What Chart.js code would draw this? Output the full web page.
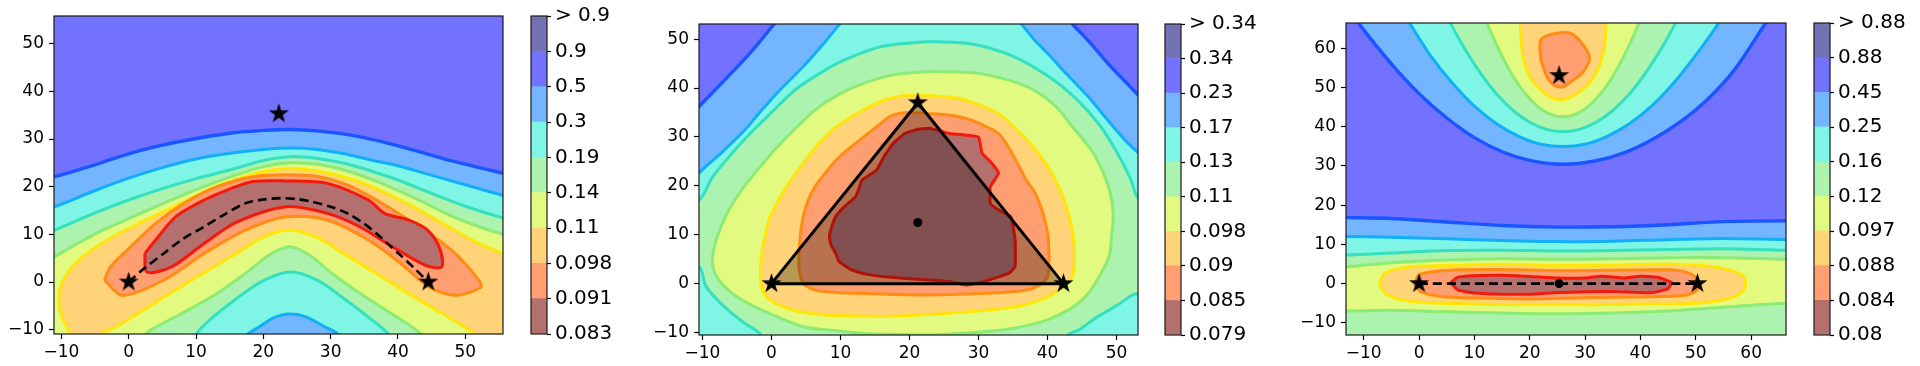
<!DOCTYPE html>
<html>
<head>
<meta charset="utf-8">
<script src="https://cdn.jsdelivr.net/npm/chart.js@4.4.1/dist/chart.umd.min.js"></script>
<style>
  html, body { margin: 0; padding: 0; background: #fff; width: 1920px; height: 366px; overflow: hidden; }
  canvas { position: absolute; top: 0; }
</style>
</head>
<body>
<canvas id="p1"></canvas><canvas id="cb1"></canvas>
<canvas id="p2"></canvas><canvas id="cb2"></canvas>
<canvas id="p3"></canvas><canvas id="cb3"></canvas>
<script>
// ---- data ----
// colorbar labels, bottom to top
const cbLabels1 = ['0.083', '0.091', '0.098', '0.11', '0.14', '0.19', '0.3', '0.5', '0.9', '> 0.9'];
const cbLabels2 = ['0.079', '0.085', '0.09', '0.098', '0.11', '0.13', '0.17', '0.23', '0.34', '> 0.34'];
const cbLabels3 = ['0.08', '0.084', '0.088', '0.097', '0.12', '0.16', '0.25', '0.45', '0.88', '> 0.88'];

const ticks1 = [-10, 0, 10, 20, 30, 40, 50];
const ticks2 = [-10, 0, 10, 20, 30, 40, 50];
const ticks3 = [-10, 0, 10, 20, 30, 40, 50, 60];

const range1 = { x: [-11.1, 55.6], y: [-10.9, 55.8] };
const range2 = { x: [-10.5, 53.1], y: [-10.5, 53.1] };
const range3 = { x: [-13.2, 66.3], y: [-13.1, 66.4] };

const frameRect = [[-30, -30], [80, -30], [80, 80], [-30, 80], [-30, -30]];

// panel 1 contours (outer edge of each band)
const p1_050 = [[-25, 17.5], [-11, 22.1], [-5, 24.6], [0, 26.9], [5, 28.7], [10, 30.1], [15, 31.2], [20, 31.8], [24, 32.0], [28, 31.7], [33, 30.8], [38, 29.3], [43, 27.4], [48, 25.4], [53, 23.7], [58, 22.0], [72, 17], [72, -30], [-25, -30], [-25, 17.5]];
const p1_030 = [[-25, 9], [-11, 15.8], [-5, 19.2], [0, 21.8], [5, 24.0], [10, 25.8], [15, 27.0], [20, 27.8], [24, 28.1], [28, 27.8], [32, 26.9], [36, 25.6], [40, 24.4], [44, 22.8], [48, 21.2], [52, 19.6], [56, 18.0], [70, 12], [70, -30], [38, -30], [33, -16], [31.2, -11.1], [29, -9.3], [26.5, -7.4], [24, -6.7], [21.5, -7.5], [19.4, -9.4], [17.6, -11.1], [16, -16], [10, -30], [-25, -30], [-25, 9]];
const p1_019 = [[-25, 3], [-11, 10.9], [-5, 14.5], [0, 17.2], [5, 19.6], [10, 21.7], [15, 23.5], [20, 25.5], [24, 26.3], [28, 25.9], [32, 24.9], [36, 23.3], [40, 21.4], [45, 18.6], [50, 15.9], [55.7, 13.4], [70, 8], [70, -30], [45, -30], [40.5, -16], [38.6, -11], [36, -7.8], [32, -3.5], [28, 0.4], [24, 2.1], [20, 0.3], [16, -3.5], [12, -8], [10, -11], [8, -16], [0, -30], [-25, -30], [-25, 3]];
const p1_014 = [[-25, -2], [-11.1, 5.3], [-8, 7.8], [-4, 10.8], [0, 13.3], [5, 16.4], [10, 19.4], [15, 22.0], [20, 24.2], [24, 25.0], [28, 24.7], [32, 23.5], [36, 21.6], [40, 19.2], [44, 16.6], [48, 13.8], [52, 11.6], [55.7, 10.0], [70, 5], [70, -30], [50, -30], [46, -16], [43.5, -11], [40, -7.5], [35, -3], [30, 2], [27, 5.5], [24, 7.4], [21, 5.8], [18, 2.5], [13, -2.5], [8, -6.5], [4, -9.5], [2.5, -11], [1, -16], [-5, -30], [-25, -30], [-25, -2]];
const p1_011 = [[-8, -16], [-8.7, -11], [-10, -7], [-10.4, -3.8], [-10, -0.5], [-8.5, 3], [-6, 6.2], [-2.5, 9.4], [2, 12.6], [7, 16.0], [12, 19.4], [17, 22.0], [21, 23.4], [24, 23.8], [28, 23.3], [33, 21.6], [38, 18.8], [43, 15.2], [47, 12.0], [51, 8.8], [55.7, 6.0], [70, 1], [70, -30], [56, -30], [53, -16], [51.3, -11], [49, -8.7], [46.3, -6.4], [42, -2.8], [37, 1.6], [32, 5.9], [28, 9.3], [24, 10.9], [20, 9.4], [16, 6.0], [11, 1.8], [6, -2.5], [1.5, -6.5], [-2, -9.5], [-4, -11], [-5, -16], [-8, -16]];
const p1_0098 = [[-3.6, 0.4], [-2.7, 3.2], [0.3, 7.4], [4, 12.3], [8.2, 16.5], [13.1, 20], [18.5, 22.1], [23.4, 22.5], [28.3, 22.1], [32.5, 20.4], [36.8, 17.2], [41.6, 13], [46, 8.8], [49, 5.3], [52, 0.4], [52.3, -1.1], [48.6, -2.8], [44.7, -1.1], [40.4, 3.9], [35.6, 8.8], [29.5, 13.0], [23.4, 13.7], [17.3, 10.9], [11.2, 6.0], [5.2, 0.4], [-0.9, -2.8], [-3.6, 0.4]];
const p1_0091 = [[2.4, 6], [4, 8.8], [7, 13.7], [11.2, 17.2], [15, 19.5], [18.5, 21.1], [23.4, 21.2], [29.5, 20.7], [35.6, 17.2], [38, 14.4], [41.6, 13.0], [44.4, 10.9], [46.2, 7.0], [46.5, 3.2], [44.1, 3.5], [39.2, 7.4], [34.3, 11.6], [29.5, 14.4], [23.4, 15.8], [16.1, 12.6], [11.2, 8.1], [6.4, 3.2], [2.7, 2.1], [2.4, 6]];
const p1_path = [[0, 0], [2, 2.5], [5.2, 6], [8, 9], [11.2, 11.6], [14, 14], [17.3, 16.5], [20, 17.3], [22.5, 17.6], [25, 17.4], [27, 16.9], [30, 15.8], [32.5, 14.4], [35, 12.2], [36.8, 10.2], [38.5, 8], [40.4, 5.6], [42.5, 2.8], [44.5, 0]];
const p1_stars = [[0, 0], [44.5, 0], [22.3, 35.3]];

// panel 2 contours
const p2_023 = [[-22, 18.4], [-10.5, 36.2], [-7.5, 40.6], [-4.3, 45.3], [-1.8, 49.3], [0.4, 53.1], [6, 61.8], [38, 61.7], [43.6, 53.1], [46.2, 49.2], [48.9, 44.8], [51.2, 41.4], [53.1, 38.6], [66, 18.9], [66, -25], [-22, -25], [-22, 18.4]];
const p2_017 = [[-22, 5], [-10.5, 22.6], [-7.3, 26.7], [-4, 31.2], [-1.4, 35.5], [1.5, 40], [4.6, 44.4], [7.5, 49], [9.9, 53.1], [15, 61], [31, 61], [36.2, 53.1], [38, 50], [40, 47.1], [43, 42.5], [45.9, 38.2], [48.5, 33.8], [51.2, 29.4], [53.1, 26.8], [66, 10], [66, -25], [-22, -25], [-22, 5]];
const p2_013 = [[22.9, 49.5], [29, 49], [35, 46.5], [40, 42.5], [44, 38], [47.5, 32.5], [50, 27], [52, 21.5], [53.1, 17.5], [60, 8], [60, -5], [53.1, -2], [50, -4.5], [47, -7], [44.5, -9.5], [43, -10.5], [40, -20], [2, -20], [-1.5, -10.5], [-4, -8], [-7, -4.5], [-9.5, -0.5], [-10.5, 3.5], [-17, 8], [-17, 12], [-10.5, 17.1], [-8.5, 21.9], [-6, 26.2], [-3.1, 30.7], [0, 35], [3.4, 39.6], [7, 43], [10.5, 45.7], [16, 48.5], [22.9, 49.5]];
const p2_011 = [[22.9, 43.4], [30, 43], [37, 40.3], [41, 36.5], [43.6, 32.1], [46, 28], [47.7, 23.9], [49, 19], [49.5, 14.4], [49.3, 10], [48.9, 5.5], [47.5, 1.5], [45.9, -2], [43.5, -5], [40, -7.4], [35.5, -9], [31.1, -9.8], [26, -10.3], [22.3, -10.5], [18, -10.4], [13.4, -10.2], [9, -9.6], [4.6, -8.8], [0, -6.3], [-4.3, -3.3], [-7.2, 0], [-8.5, 3.5], [-8.3, 7.5], [-7.3, 11.7], [-6, 15.5], [-4.3, 19.2], [-2, 23.3], [0.4, 27.3], [3.3, 31.5], [6.3, 35.5], [9.5, 38.5], [13.4, 41], [18, 42.8], [22.9, 43.4]];
const p2_0098 = [[21.7, 38.6], [27, 37.9], [30, 36.6], [32.9, 34.8], [35, 32.2], [37, 29.4], [39, 26], [40.6, 22.6], [42, 18.5], [43, 14.4], [43.6, 10.5], [43.9, 6.9], [43.6, 1.4], [42, -0.8], [40, -2.7], [37, -4.2], [34.1, -5], [30, -5.6], [25.2, -6.1], [20, -6.5], [16.4, -6.7], [12, -6.6], [7.5, -6.4], [4, -5.7], [1.6, -4.7], [-0.5, -3], [-1.4, -1], [-1.6, 2], [-1.4, 6.2], [-0.9, 10], [-0.2, 13.7], [1.2, 17.5], [2.8, 21.2], [4.8, 25], [6.9, 28.7], [9, 31.6], [11.6, 34.2], [14, 36], [16.4, 37.6], [19, 38.4], [21.7, 38.6]];
const p2_009 = [[22.3, 34.8], [25, 34.6], [28.2, 33.8], [30.5, 32.5], [32.9, 30.7], [34.5, 27.5], [35.9, 23.9], [37, 21], [38.2, 18.5], [39.3, 14.5], [40, 10.3], [40.2, 5.5], [40, 1.4], [38.8, -0.3], [37, -1.3], [33.5, -1.8], [30, -2], [26, -2.2], [22.3, -2.3], [18, -2.2], [13.4, -2], [9.5, -1.8], [6.3, -1.3], [4.6, 0.1], [4, 3], [4, 6.2], [4.2, 10], [4.6, 13.7], [5.3, 17], [6.3, 19.8], [8, 23], [9.9, 26], [12, 28.5], [14, 30.7], [15.8, 32.7], [17.6, 34.5], [20, 35], [22.3, 34.8]];
const p2_0085 = [[17.6, 28.7], [19.3, 30.7], [21, 31.5], [22.9, 31.8], [25.8, 30.7], [28, 30.4], [30, 30], [30.5, 26.7], [32, 24.5], [32.9, 22.6], [31.7, 19.8], [31.7, 16.4], [33, 15], [34.7, 13.7], [35.3, 8.9], [35.3, 3.5], [34.5, 2.2], [32.9, 1.4], [30, 0.1], [28.2, -0.3], [26, 0.4], [23.5, 0.7], [20, 1.0], [16.4, 1.4], [13.5, 2.0], [11.6, 2.8], [9.8, 4.5], [9.3, 6.2], [8.6, 8], [8.4, 9.6], [8.7, 11.5], [9.3, 13.7], [10.6, 15.8], [12.2, 17.8], [12.7, 19.5], [13.1, 21.2], [15.2, 23.2], [16.3, 26], [17.6, 28.7]];
const p2_triangle = [[0, 0], [21.2, 37], [42.3, 0], [0, 0]];
const p2_stars = [[0, 0], [42.3, 0], [21.2, 37]];
const p2_dots = [[21.2, 12.5]];

// panel 3 contours (top cap and bottom band per level)
const p3_045a = [[-14, 75], [-12, 68.9], [-10.9, 66.3], [-5, 56.0], [0, 48.4], [5, 42.2], [10, 37.2], [15, 33.6], [20, 31.4], [26, 30.4], [32, 31.3], [37, 33.3], [42, 36.6], [47, 41.0], [52, 46.8], [57, 54.5], [62.6, 66.3], [64, 68.9], [66, 75], [-14, 75]];
const p3_045b = [[-25, 17], [-13.2, 16.8], [-5, 16.6], [5, 15.7], [15, 14.8], [25, 14.4], [35, 14.5], [45, 15.0], [55, 15.8], [66.3, 16.0], [80, 16], [80, -30], [-25, -30], [-25, 17]];
const p3_025a = [[-4, 75], [-3, 68.9], [-1.7, 66.3], [2, 58.2], [6, 51.1], [10, 45.2], [14, 40.7], [18, 37.5], [22, 35.5], [26, 34.9], [30, 35.5], [34, 37.5], [38, 40.7], [42, 45.2], [46, 51.1], [50, 58.2], [54.1, 66.3], [55, 68.9], [56, 75], [-4, 75]];
const p3_025b = [[-25, 12], [-13.2, 12.0], [-5, 11.8], [5, 11.4], [15, 11.0], [25, 10.7], [35, 10.8], [45, 11.2], [55, 11.5], [66.3, 11.2], [80, 11], [80, -30], [-25, -30], [-25, 12]];
const p3_016a = [[3.5, 75], [4.5, 69.7], [5.7, 66.3], [8, 60.4], [11, 53.8], [14, 48.3], [17, 44.1], [20, 41.1], [23, 39.3], [26, 38.7], [29, 39.3], [32, 41.1], [35, 44.1], [38, 48.3], [41, 53.8], [44, 60.4], [46.3, 66.3], [47.5, 69.7], [48.5, 75], [3.5, 75]];
const p3_016b = [[-25, 7.3], [-13.2, 7.3], [-5, 7.8], [5, 8.4], [15, 8.5], [25, 8.3], [35, 8.4], [45, 8.7], [55, 8.9], [66.3, 8.5], [80, 8.5], [80, -30], [-25, -30], [-25, 7.3]];
const p3_012a = [[11, 75], [11.5, 69.2], [12.3, 66.3], [14, 60.8], [16, 55.2], [18, 50.6], [20, 47.1], [22, 44.5], [24, 43.0], [26, 42.5], [28, 43.0], [30, 44.5], [32, 47.1], [34, 50.6], [36, 55.2], [38, 60.8], [39.7, 66.3], [40.5, 69.2], [41, 75], [11, 75]];
const p3_012b = [[-25, 4], [-13.2, 4.3], [-5, 5.3], [5, 6.0], [15, 6.3], [25, 6.2], [35, 6.3], [45, 6.6], [55, 6.6], [66.3, 6.2], [80, 6], [80, -5], [66.3, -5.0], [55, -6.0], [45, -7.0], [35, -7.5], [25, -7.7], [15, -7.5], [5, -7.2], [-5, -6.8], [-13.2, -7.0], [-25, -7], [-25, 4]];
const p3_0097a = [[18.1, 75], [18.3, 66.3], [18.6, 59.5], [19.7, 53.6], [22, 49.3], [25.3, 46.8], [28.6, 48.5], [31.6, 52.7], [33.4, 59.5], [33.8, 66.3], [34, 75], [18.1, 75]];
const p3_0097b = [[-7.2, 0], [-6.2, 2.6], [-3, 4.0], [2, 4.5], [8, 4.7], [15, 4.9], [25, 4.6], [35, 4.7], [45, 4.9], [52, 4.5], [56, 3.5], [58.5, 2], [59, 0], [58.5, -2], [56, -3.8], [50, -5.0], [40, -5.2], [30, -5.4], [20, -5.4], [10, -5.2], [2, -4.9], [-3, -4.2], [-6, -2.6], [-7.2, 0]];
const p3_0088a = [[22, 57], [22, 62.1], [24.9, 63.8], [27.9, 63.4], [30.8, 57.8], [29.7, 54], [27.9, 51.9], [25.6, 50], [23.4, 51.9], [22, 57]];
const p3_0088b = [[-0.8, 0], [0, 2.2], [3, 3.1], [8, 3.5], [15, 3.6], [25, 3.3], [35, 3.4], [45, 3.5], [48.5, 2.8], [50.3, 1], [50.3, -1.5], [48, -3.0], [40, -3.4], [30, -3.6], [20, -3.9], [10, -3.7], [4, -3.3], [0.5, -2.2], [-0.8, 0]];
const p3_0084 = [[5.7, 0.2], [7, 1.6], [10, 2.0], [15, 2.1], [20, 1.8], [25, 1.4], [30, 1.4], [33, 1.9], [37, 1.4], [40, 1.9], [43, 1.6], [45.6, 0.3], [45, -1.3], [42, -2.3], [35, -2.0], [30, -2.1], [25, -2.3], [20, -2.7], [15, -2.7], [10, -2.4], [7, -1.6], [5.7, 0.2]];
const p3_path = [[0, 0], [50.3, 0]];
const p3_stars = [[0, 0], [50.3, 0], [25.3, 53]];
const p3_dots = [[25.3, 0]];

// ---- styles ----
// band fills, bottom to top of the colorbar
const FILLS = ['#b46f6f', '#ff9e70', '#ffd377', '#e2fa80', '#acf3b0', '#7ef5e5', '#74b5ff', '#7272ff', '#7272b4'];
// line on the upper edge of each band
const LINES = ['#f31a0c', '#ff8c14', '#ffe50a', '#8ceb74', '#35e0bf', '#12aef7', '#1a55ff', '#10108a'];

const xy = a => a.map(p => ({ x: p[0], y: p[1] }));
const fmt = v => (v < 0 ? '\u2212' + (-v) : '' + v);

function band(pts, k, tension) {
  return {
    data: xy(pts), fill: 'shape', backgroundColor: FILLS[k], borderColor: LINES[k],
    borderWidth: k === 6 ? 3.4 : 3, borderJoinStyle: 'round', pointRadius: 0,
    tension: tension === undefined ? 0.3 : tension, clip: 0
  };
}
function background(k) {
  return { data: xy(frameRect), fill: 'shape', backgroundColor: FILLS[k], borderWidth: 0, pointRadius: 0, tension: 0, clip: 0 };
}
function dashed(pts) {
  return { data: xy(pts), fill: false, borderColor: '#000', borderWidth: 2.6, borderDash: [9, 5], pointRadius: 0, tension: 0.3, clip: 0 };
}
function starImage(r) {
  const c = document.createElement('canvas');
  const s = Math.ceil(r * 2 + 2);
  c.width = c.height = s;
  const g = c.getContext('2d');
  g.translate(s / 2, s / 2);
  g.beginPath();
  for (let i = 0; i < 10; i++) {
    const a = -Math.PI / 2 + i * Math.PI / 5;
    const rr = i % 2 ? r * 0.382 : r;
    g.lineTo(rr * Math.cos(a), rr * Math.sin(a));
  }
  g.closePath();
  g.fillStyle = '#000';
  g.fill();
  return c;
}
const STAR = starImage(10.5);
function stars(pts) {
  return { data: xy(pts), showLine: false, pointStyle: STAR, pointRadius: 10, clip: false };
}
function dots(pts) {
  return { data: xy(pts), showLine: false, pointStyle: 'circle', pointRadius: 4.5, backgroundColor: '#000', borderWidth: 0, clip: false };
}

// draw the axes box on top of the filled bands
const frame = {
  id: 'frame',
  afterDatasetsDraw(chart) {
    const { left, top, right, bottom } = chart.chartArea;
    const ctx = chart.ctx;
    ctx.save();
    ctx.strokeStyle = '#1a1a1a';
    ctx.lineWidth = 1.2;
    ctx.strokeRect(left, top, right - left, bottom - top);
    ctx.restore();
  }
};

function axis(range, ticks, size, horiz) {
  return {
    type: 'linear', min: range[0], max: range[1],
    afterBuildTicks: s => { s.ticks = ticks.map(v => ({ value: v })); },
    afterFit: s => { if (horiz) s.height = size; else s.width = size; },
    grid: { drawOnChartArea: false, drawTicks: true, tickLength: 5, tickWidth: 1.2, tickColor: '#000' },
    border: { display: false },
    ticks: {
      font: { family: 'DejaVu Sans', size: 17 }, color: '#000', padding: horiz ? 3 : 5,
      maxRotation: 0, autoSkip: false, callback: v => fmt(v)
    }
  };
}

function plot(id, area, range, xTicks, yTicks, datasets) {
  const cv = document.getElementById(id);
  const padL = 64, padR = 8;
  cv.width = area.r - area.l + padL + padR;
  cv.height = 366;
  cv.style.left = (area.l - padL) + 'px';
  return new Chart(cv, {
    type: 'line',
    // first listed is drawn first (at the bottom)
    data: { datasets: datasets.slice().reverse() },
    options: {
      responsive: false, animation: false, events: [],
      layout: { autoPadding: false, padding: { top: area.t, right: padR, left: 0, bottom: 0 } },
      plugins: { legend: { display: false }, tooltip: { enabled: false } },
      elements: { line: { capBezierPoints: false } },
      scales: {
        x: axis(range.x, xTicks, 366 - area.b, true),
        y: axis(range.y, yTicks, padL, false)
      }
    },
    plugins: [frame]
  });
}

function colorbar(id, area, labels) {
  const cv = document.getElementById(id);
  const padR = 92;
  cv.width = area.r - area.l + 2 + padR;
  cv.height = 366;
  cv.style.left = (area.l - 2) + 'px';
  return new Chart(cv, {
    type: 'bar',
    data: {
      labels: [''],
      datasets: FILLS.map(c => ({ data: [1], backgroundColor: c, borderWidth: 0, barPercentage: 1, categoryPercentage: 1 }))
    },
    options: {
      responsive: false, animation: false, events: [],
      layout: { autoPadding: false, padding: { top: area.t, bottom: 366 - area.b, left: 2, right: 0 } },
      plugins: { legend: { display: false }, tooltip: { enabled: false } },
      scales: {
        x: { display: false, stacked: true },
        y: {
          stacked: true, position: 'right', min: 0, max: labels.length - 1,
          afterBuildTicks: s => { s.ticks = labels.map((_, i) => ({ value: i })); },
          afterFit: s => { s.width = padR; },
          grid: { drawOnChartArea: false, drawTicks: true, tickLength: 4, tickWidth: 1.2, tickColor: '#000' },
          border: { display: false },
          ticks: { font: { family: 'DejaVu Sans', size: 20 }, color: '#000', padding: 4, autoSkip: false, callback: v => labels[v] }
        }
      }
    },
    plugins: [frame]
  });
}

// ---- panel 1 ----
plot('p1', { l: 54, r: 503, t: 16, b: 334 }, range1, ticks1, ticks1, [
  background(7),
  band(p1_050, 6), band(p1_030, 5), band(p1_019, 4), band(p1_014, 3),
  band(p1_011, 2), band(p1_0098, 1), band(p1_0091, 0),
  dashed(p1_path), stars(p1_stars)
]);
colorbar('cb1', { l: 531, r: 547, t: 16, b: 334 }, cbLabels1);

// ---- panel 2 ----
plot('p2', { l: 699, r: 1138, t: 24, b: 335 }, range2, ticks2, ticks2, [
  background(7),
  band(p2_023, 6), band(p2_017, 5), band(p2_013, 4), band(p2_011, 3),
  band(p2_0098, 2), band(p2_009, 1), band(p2_0085, 0, 0.1),
  { data: xy(p2_triangle), fill: 'shape', backgroundColor: 'rgba(0,0,0,0.28)', borderColor: '#000', borderWidth: 3, pointRadius: 0, tension: 0, clip: 0 },
  dots(p2_dots), stars(p2_stars)
]);
colorbar('cb2', { l: 1165, r: 1181, t: 24, b: 335 }, cbLabels2);

// ---- panel 3 ----
plot('p3', { l: 1346, r: 1786, t: 23, b: 335 }, range3, ticks3, ticks3, [
  background(7),
  band(p3_045a, 6), band(p3_045b, 6),
  band(p3_025a, 5), band(p3_025b, 5),
  band(p3_016a, 4), band(p3_016b, 4),
  band(p3_012a, 3), band(p3_012b, 3),
  band(p3_0097a, 2), band(p3_0097b, 2),
  band(p3_0088a, 1), band(p3_0088b, 1),
  band(p3_0084, 0, 0.15),
  dashed(p3_path), dots(p3_dots), stars(p3_stars)
]);
colorbar('cb3', { l: 1814, r: 1830, t: 23, b: 335 }, cbLabels3);
</script>
</body>
</html>
